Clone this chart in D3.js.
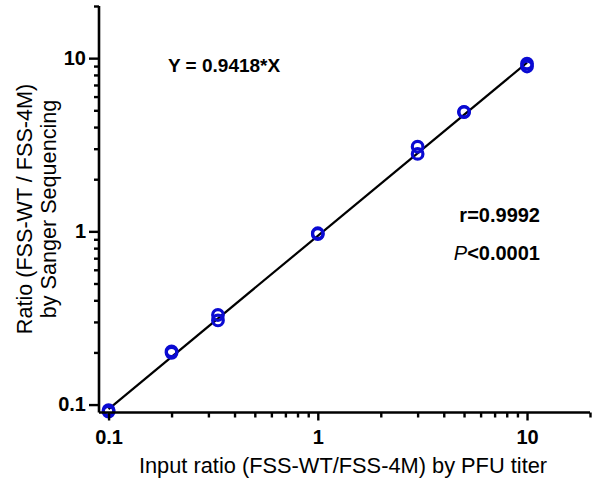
<!DOCTYPE html>
<html>
<head>
<meta charset="utf-8">
<script src="https://cdn.jsdelivr.net/npm/d3@7"></script>
<style>
  body { margin: 0; background: #fff; }
  svg { display: block; font-family: "Liberation Sans", Arial, sans-serif; }
</style>
</head>
<body>
<svg id="chart" width="599" height="484"></svg>
<script>
// input ratio (PFU titer) vs measured ratio (Sanger), duplicates per input
var inputRatio = [0.1, 0.1, 0.2, 0.2, 0.3333, 0.3333, 1, 1, 3, 3, 5, 5, 10, 10];
var measured   = [0.093, 0.091, 0.203, 0.199, 0.329, 0.306, 0.975, 0.965, 3.08, 2.8, 4.9, 4.88, 9.3, 8.95];
var slope = 0.9418;
var fitRange = [0.1, 10];
var majorTicks = [0.1, 1, 10];
var tickLabels = ["0.1", "1", "10"];

var svg = d3.select("#chart");
var blue = "#0a0ad2";

var x = d3.scaleLog().domain([0.09, 20]).range([99, 590]);
var y = d3.scaleLog().domain([0.09, 20]).range([412.5, 6]);

// minor ticks 2..9 in every decade
var minorTicks = [];
[0.1, 1, 10].forEach(function (d) {
  for (var k = 2; k <= 9; k++) {
    var v = d * k;
    if (v <= 20.001) minorTicks.push(v);
  }
});

function fmt(d) {
  return tickLabels[majorTicks.indexOf(d)];
}

// fitted line
var fit = fitRange.map(function (v) { return [v, slope * v]; });
svg.append("path")
  .datum(fit)
  .attr("fill", "none")
  .attr("stroke", "#000")
  .attr("stroke-width", 2.2)
  .attr("d", d3.line()
    .x(function (d) { return x(d[0]); })
    .y(function (d) { return y(d[1]); }));

// points
svg.append("g")
  .selectAll("circle")
  .data(inputRatio)
  .enter().append("circle")
  .attr("cx", function (d) { return x(d); })
  .attr("cy", function (d, i) { return y(measured[i]); })
  .attr("r", 5.3)
  .attr("fill", "none")
  .attr("stroke", blue)
  .attr("stroke-width", 3.2);

// axes
var xMinor = svg.append("g")
  .attr("transform", "translate(0,412.5)")
  .call(d3.axisBottom(x).tickValues(minorTicks).tickSize(5).tickFormat(""));
var xMajor = svg.append("g")
  .attr("transform", "translate(0,412.5)")
  .call(d3.axisBottom(x).tickValues(majorTicks).tickSize(8).tickPadding(9).tickFormat(fmt));
var yMinor = svg.append("g")
  .attr("transform", "translate(99,0)")
  .call(d3.axisLeft(y).tickValues(minorTicks).tickSize(5).tickFormat(""));
var yMajor = svg.append("g")
  .attr("transform", "translate(99,0)")
  .call(d3.axisLeft(y).tickValues(majorTicks).tickSize(10).tickPadding(3).tickFormat(fmt));

svg.selectAll(".domain").attr("stroke", "#000").attr("stroke-width", 2.6);
svg.selectAll(".tick line").attr("stroke", "#000").attr("stroke-width", 2.4);
[xMinor, yMinor].forEach(function (g) { g.select(".domain").remove(); });
// domain lines without end caps
xMajor.select(".domain").attr("d", "M99,0H590");
yMajor.select(".domain").attr("d", "M0,6V412.5");
svg.selectAll(".tick text")
  .attr("fill", "#000")
  .style("font-size", "20px")
  .style("font-weight", "bold");

// axis titles
svg.append("text")
  .attr("x", 343)
  .attr("y", 473)
  .attr("text-anchor", "middle")
  .style("font-size", "21.8px")
  .text("Input ratio (FSS-WT/FSS-4M) by PFU titer");

var yt = svg.append("text")
  .attr("transform", "translate(32,209) rotate(-90)")
  .attr("text-anchor", "middle")
  .style("font-size", "21.6px");
yt.append("tspan").attr("x", 0).attr("y", 0).text("Ratio (FSS-WT / FSS-4M)");
yt.append("tspan").attr("x", 0).attr("y", 24).text("by Sanger Sequencing");

// annotations
svg.append("text")
  .attr("x", 168)
  .attr("y", 72)
  .style("font-size", "19px")
  .style("font-weight", "bold")
  .text("Y = 0.9418*X");

svg.append("text")
  .attr("x", 540)
  .attr("y", 222)
  .attr("text-anchor", "end")
  .style("font-size", "20px")
  .style("font-weight", "bold")
  .text("r=0.9992");

var pt = svg.append("text")
  .attr("x", 540)
  .attr("y", 260)
  .attr("text-anchor", "end")
  .style("font-size", "20px")
  .style("font-weight", "bold");
pt.append("tspan").style("font-style", "italic").style("font-weight", "normal").text("P");
pt.append("tspan").text("<0.0001");
</script>
</body>
</html>
